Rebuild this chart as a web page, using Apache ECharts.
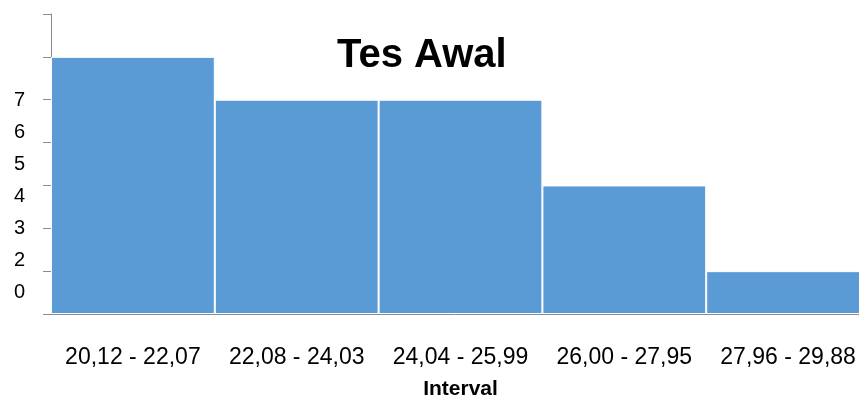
<!DOCTYPE html>
<html>
<head>
<meta charset="utf-8">
<script src="https://cdn.jsdelivr.net/npm/echarts@6/dist/echarts.min.js"></script>
<style>html,body{margin:0;padding:0;background:#fff}#c{width:859px;height:401px}</style>
</head>
<body>
<div id="c"></div>
<script>
const categories = ['20,12 - 22,07', '22,08 - 24,03', '24,04 - 25,99', '26,00 - 27,95', '27,96 - 29,88'];
const frequencies = [6, 5, 5, 3, 1];
const yTickLabels = ['0', '2', '3', '4', '5', '6', '7'];
const titleText = 'Tes Awal';
const xAxisTitle = 'Interval';

const chart = echarts.init(document.getElementById('c'), null, {renderer: 'canvas'});
const font = 'Liberation Sans, Arial, sans-serif';
chart.setOption({
  animation: false,
  backgroundColor: '#ffffff',
  title: {
    text: titleText,
    left: 332,
    top: 31,
    textStyle: {fontFamily: font, fontSize: 40, fontWeight: 'bold', color: '#000'}
  },
  grid: [
    {left: 51, top: 14, width: 819, height: 300, outerBoundsMode: 'none', containLabel: false},
    {left: 51, top: 84, width: 1, height: 225, outerBoundsMode: 'none', containLabel: false}
  ],
  xAxis: [
    {
      type: 'category', gridIndex: 0, data: categories,
      axisLine: {lineStyle: {color: '#8c8c8c', width: 1}},
      axisTick: {show: false},
      axisLabel: {fontFamily: font, fontSize: 23, color: '#000', margin: 32, interval: 0},
      name: xAxisTitle, nameLocation: 'middle', nameGap: 65,
      nameTextStyle: {fontFamily: font, fontSize: 21, fontWeight: 'bold', color: '#000'}
    },
    {type: 'value', gridIndex: 1, show: false}
  ],
  yAxis: [
    {
      type: 'value', gridIndex: 0, min: 0, max: 7, interval: 1,
      axisLine: {show: true, lineStyle: {color: '#8c8c8c', width: 1}},
      axisTick: {show: true, length: 8, lineStyle: {color: '#8c8c8c'}},
      axisLabel: {show: false},
      splitLine: {show: false}
    },
    {
      type: 'category', gridIndex: 1, data: yTickLabels,
      axisLine: {show: false}, axisTick: {show: false},
      axisLabel: {fontFamily: font, fontSize: 20, color: '#000', margin: 26, interval: 0},
      splitLine: {show: false}
    }
  ],
  series: [{
    type: 'bar', xAxisIndex: 0, yAxisIndex: 0,
    data: frequencies,
    barCategoryGap: 0,
    itemStyle: {color: '#5b9bd5', borderColor: '#ffffff', borderWidth: 1}
  }]
});
</script>
</body>
</html>
